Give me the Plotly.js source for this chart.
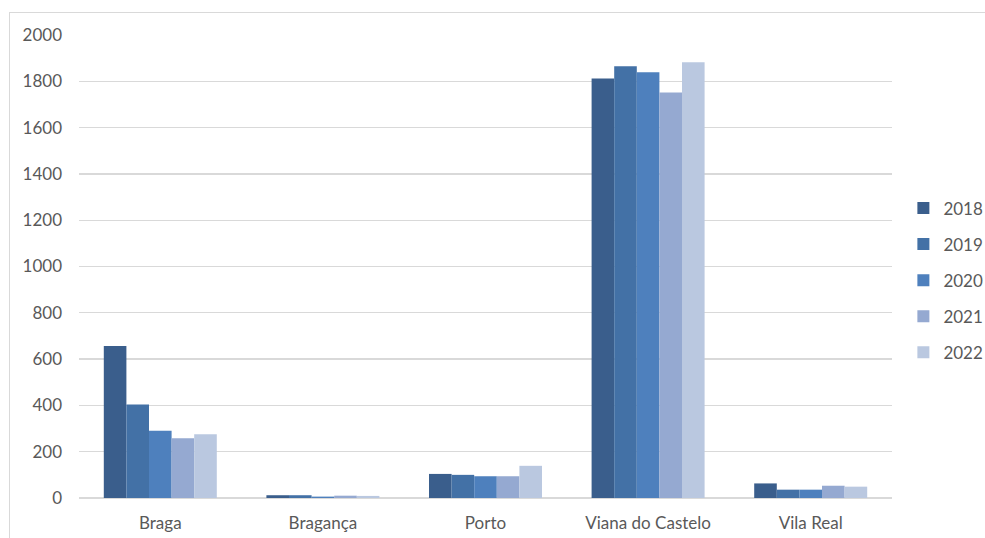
<!DOCTYPE html>
<html>
<head>
<meta charset="utf-8">
<script src="https://cdn.plot.ly/plotly-3.0.1.min.js"></script>
<style>
html,body{margin:0;padding:0;background:#fff;}
#wrap{position:relative;width:985px;height:538px;overflow:hidden;}
#frame{position:absolute;left:9px;top:12px;width:990px;height:540px;border-top:1px solid #d9d9d9;border-left:1px solid #d9d9d9;pointer-events:none;}
#chart{position:absolute;left:0;top:0;width:985px;height:538px;}
</style>
</head>
<body>
<div id="wrap">
<div id="chart"></div>
<div id="frame"></div>
</div>
<script>
const categories = ["Braga", "Bragança", "Porto", "Viana do Castelo", "Vila Real"];
const years = ["2018", "2019", "2020", "2021", "2022"];
const v2018 = [657, 12, 104, 1812, 63];
const v2019 = [404, 12, 100, 1865, 36];
const v2020 = [290, 6, 94, 1839, 36];
const v2021 = [258, 10, 94, 1752, 53];
const v2022 = [275, 9, 139, 1882, 49];
const seriesValues = [v2018, v2019, v2020, v2021, v2022];
const colors = ["#3a5e8c", "#4371a6", "#4e80bd", "#95a9d1", "#bac8e0"];
const yTicks = [0, 200, 400, 600, 800, 1000, 1200, 1400, 1600, 1800, 2000];

const font = "Lato, 'Liberation Sans', sans-serif";
const traces = years.map((y, i) => ({
  type: "bar",
  name: y,
  x: categories,
  y: seriesValues[i],
  marker: {color: colors[i], line: {width: 0}},
  legendgroup: "g" + i,
  hoverinfo: "x+y+name"
}));

const layout = {
  width: 985,
  height: 538,
  margin: {l: 79, r: 93, t: 35, b: 40, pad: 0, autoexpand: false},
  paper_bgcolor: "rgba(0,0,0,0)",
  plot_bgcolor: "#fff",
  barmode: "group",
  bargap: 0.305,
  bargroupgap: 0,
  font: {family: font, size: 17, color: "#595959"},
  xaxis: {
    type: "category",
    showgrid: false,
    showline: false,
    zeroline: false,
    ticks: "",
    ticklabelstandoff: 13,
    tickfont: {family: font, size: 17, color: "#595959"}
  },
  yaxis: {
    range: [0, 2000],
    tickvals: yTicks,
    ticktext: yTicks.map(String),
    showgrid: true,
    gridcolor: "#d9d9d9",
    gridwidth: 1.3,
    zeroline: true,
    zerolinecolor: "#d9d9d9",
    zerolinewidth: 1.5,
    showline: false,
    ticks: "",
    ticklabelstandoff: 16,
    tickfont: {family: font, size: 17, color: "#595959"}
  },
  showlegend: true,
  legend: {
    x: 1.014,
    y: 0.47,
    xanchor: "left",
    yanchor: "middle",
    orientation: "v",
    traceorder: "grouped",
    tracegroupgap: 11,
    itemwidth: 30,
    font: {family: font, size: 17, color: "#595959"},
    bgcolor: "rgba(0,0,0,0)"
  }
};

Plotly.newPlot("chart", traces, layout, {displayModeBar: false, staticPlot: true});
</script>
</body>
</html>
